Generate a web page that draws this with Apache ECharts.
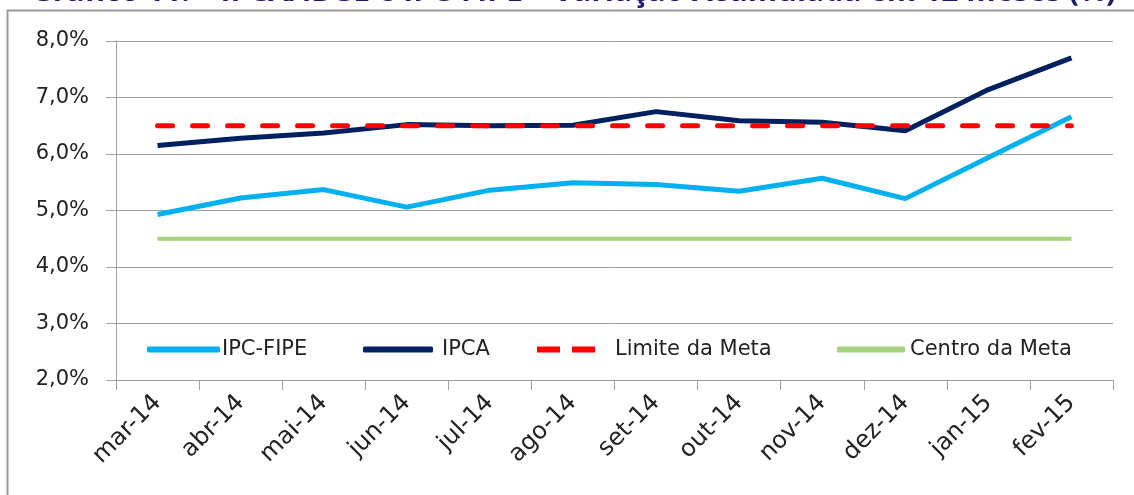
<!DOCTYPE html>
<html lang="pt">
<head>
    <meta charset="UTF-8">
    <title>IPCA e IPC-FIPE</title>
</head>
<body style="margin: 0; background: #fff">
<div id="container" style="height: 495px; width: 1134px;"></div>
<script type="text/javascript" src="https://cdn.jsdelivr.net/npm/echarts@6/dist/echarts.min.js"></script>
<script type="text/javascript">
    const meses = ['mar-14', 'abr-14', 'mai-14', 'jun-14', 'jul-14', 'ago-14',
        'set-14', 'out-14', 'nov-14', 'dez-14', 'jan-15', 'fev-15'];
    const ipcFipe = [4.93, 5.22, 5.37, 5.06, 5.36, 5.49, 5.46, 5.34, 5.57, 5.21, 5.94, 6.66];
    const ipca = [6.15, 6.28, 6.37, 6.52, 6.50, 6.51, 6.75, 6.59, 6.56, 6.41, 7.14, 7.70];
    const limiteMeta = [6.5, 6.5, 6.5, 6.5, 6.5, 6.5, 6.5, 6.5, 6.5, 6.5, 6.5, 6.5];
    const centroMeta = [4.5, 4.5, 4.5, 4.5, 4.5, 4.5, 4.5, 4.5, 4.5, 4.5, 4.5, 4.5];

    const font = '"DejaVu Sans", "Open Sans", sans-serif';
    const dom = document.getElementById('container');
    const myChart = echarts.init(dom);

    // one legend per item so each sits where it is in the original
    function legendAt(name, left, width, gap, icon) {
        return {
            data: [{name: name, icon: icon || 'roundRect'}],
            left: left, top: 339, padding: 0,
            itemWidth: width, itemHeight: 6,
            textStyle: {fontSize: 21, color: '#222', fontFamily: font, padding: [0, 0, 0, gap - 5]},
            selectedMode: false
        };
    }

    const option = {
        animation: false,
        title: {
            text: 'Gráfico 11. – IPCA/IBGE e IPC-FIPE – Variação Acumulada em 12 meses (%)',
            left: 26, top: -28,
            textStyle: {fontSize: 30, fontWeight: 'bold', color: '#1c1c6c', fontFamily: '"Open Sans", sans-serif'}
        },
        graphic: [{
            type: 'polyline',
            shape: {points: [[7.5, 495], [7.5, 10.5], [1134, 10.5]]},
            style: {stroke: '#9a9a9a', lineWidth: 2, fill: null}
        }],
        legend: [
            legendAt('IPC-FIPE', 147, 73, 2),
            legendAt('IPCA', 363, 70, 9),
            legendAt('Limite da Meta', 537, 58, 20, 'path://M0,0h23v6h-23z M35,0h23v6h-23z'),
            legendAt('Centro da Meta', 837, 68, 5)
        ],
        grid: {left: 116, right: 21, top: 41, bottom: 115},
        xAxis: {
            type: 'category',
            data: meses,
            boundaryGap: true,
            axisLine: {lineStyle: {color: '#a0a0a0'}},
            axisTick: {show: true, length: 10, lineStyle: {color: '#a0a0a0'}},
            axisLabel: {rotate: 45, fontSize: 24, color: '#222', fontFamily: font, margin: 19, interval: 0}
        },
        yAxis: {
            type: 'value',
            min: 2, max: 8, interval: 1,
            axisLine: {show: true, lineStyle: {color: '#a0a0a0'}},
            axisTick: {show: true, length: 10, lineStyle: {color: '#a0a0a0'}},
            splitLine: {lineStyle: {color: '#a0a0a0'}},
            axisLabel: {
                fontSize: 21, color: '#222', fontFamily: font, margin: 27,
                formatter: v => v.toFixed(1).replace('.', ',') + '%'
            }
        },
        series: [
            {
                name: 'IPC-FIPE', type: 'line', data: ipcFipe, symbol: 'none',
                lineStyle: {color: '#00b0f0', width: 5}, itemStyle: {color: '#00b0f0'}
            },
            {
                name: 'IPCA', type: 'line', data: ipca, symbol: 'none',
                lineStyle: {color: '#002060', width: 5}, itemStyle: {color: '#002060'}
            },
            {
                name: 'Limite da Meta', type: 'line', data: limiteMeta, symbol: 'none',
                lineStyle: {color: '#ff0000', width: 5, type: [15, 20], cap: 'round'}, itemStyle: {color: '#ff0000'}
            },
            {
                name: 'Centro da Meta', type: 'line', data: centroMeta, symbol: 'none', z: 1,
                lineStyle: {color: '#a6d47e', width: 4}, itemStyle: {color: '#a6d47e'}
            }
        ]
    };
    myChart.setOption(option);
</script>
</body>
</html>
